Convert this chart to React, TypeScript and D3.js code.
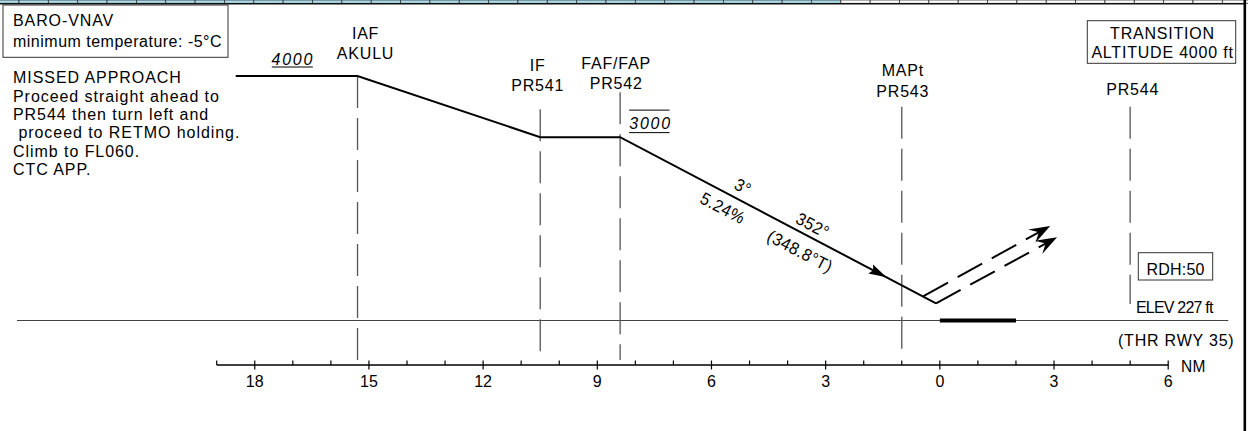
import React from "react";
import * as d3 from "d3";

// ---------- data ----------
const fixRoles = ["IAF", "IF", "FAF/FAP", "MAPt", ""];
const fixIds = ["AKULU", "PR541", "PR542", "PR543", "PR544"];
const fixDist = [15.3, 10.5, 8.4, 1.0, -5.0]; // NM from threshold (negative = beyond)

const profileDist = [18.5, 15.3, 10.5, 8.4, 0.1];
const profileAlt = [4000, 4000, 3000, 3000, 280];

const missedStartDist = [0.43, 0.1];
const missedStartAlt = [400, 280];
const missedEndDist = [-2.9, -3.08];
const missedEndAlt = [1546, 1362];

const runwayDist = [0, -2.0];
const descentArrowDist = 1.4;

const altLabels = ["4000", "3000"];
const altLabelDist = [17.0, 7.6];
const altLabelAlt = [4000, 3000];

const majorTicks = [18, 15, 12, 9, 6, 3, 0, -3, -6];
const axisRange = [19, -6];

const missedText = [
  "MISSED APPROACH",
  "Proceed straight ahead to",
  "PR544 then turn left and",
  " proceed to RETMO holding.",
  "Climb to FL060.",
  "CTC APP.",
];
const baroText = ["BARO-VNAV", "minimum temperature: -5°C"];
const transText = ["TRANSITION", "ALTITUDE 4000 ft"];
const descentLabels = ["3°", "5.24%", "352°", "(348.8°T)"];

// ---------- layout ----------
const W = 1248;
const H = 431;
const FONT = "'Liberation Sans', Arial, Helvetica, sans-serif";
const SY = 1.08; // glyph vertical stretch of the chart lettering

function T(props: any) {
  const { x, y, rot, children, ...rest } = props;
  const r = rot ? ` rotate(${rot})` : "";
  return (
    <text transform={`translate(${x},${y})${r} scale(1,${SY})`} fontSize={16} {...rest}>
      {children}
    </text>
  );
}

export default function App() {
  const x = d3.scaleLinear().domain([19, -6]).range([216.7, 1168.2]);
  const y = d3.scaleLinear().domain([0, 4000]).range([320.5, 76]);
  const axisY = 365;

  const line = d3
    .line<[number, number]>()
    .x((d) => x(d[0]))
    .y((d) => y(d[1]));
  const profilePts: [number, number][] = profileDist.map((d, i) => [d, profileAlt[i]]);

  // descent segment geometry
  const p0 = [x(profileDist[3]), y(profileAlt[3])];
  const p1 = [x(profileDist[4]), y(profileAlt[4])];
  const len = Math.hypot(p1[0] - p0[0], p1[1] - p0[1]);
  const u = [(p1[0] - p0[0]) / len, (p1[1] - p0[1]) / len];
  const nUp = [u[1], -u[0]];
  const ang = (Math.atan2(u[1], u[0]) * 180) / Math.PI;
  const labelLayout = [
    { s: 131.8, off: 12.9 },
    { s: 123.9, off: -15.3 },
    { s: 211.5, off: 11.4 },
    { s: 212.4, off: -17.5 },
  ];

  // descent arrow tip
  const tx = x(descentArrowDist);
  const tt = (tx - p0[0]) / (p1[0] - p0[0]);
  const tip = [tx, p0[1] + tt * (p1[1] - p0[1])];
  const arrowPath = (Tp: number[], d: number[], L: number, w: number, notch: number) => {
    const n = [d[1], -d[0]];
    const b1 = [Tp[0] - L * d[0] + w * n[0], Tp[1] - L * d[1] + w * n[1]];
    const b2 = [Tp[0] - L * d[0] - w * n[0], Tp[1] - L * d[1] - w * n[1]];
    const m = [Tp[0] - (L - notch) * d[0], Tp[1] - (L - notch) * d[1]];
    return `M${Tp[0]},${Tp[1]}L${b1[0]},${b1[1]}L${m[0]},${m[1]}L${b2[0]},${b2[1]}Z`;
  };

  // fix label layout
  const fixLayout = [
    { dx: 8, b1: 38.5, b2: 59, top: y(4000), bottom: axisY },
    { dx: -2.5, b1: 70.7, b2: 90.7, top: 109.3, bottom: 360 },
    { dx: -4, b1: 69, b2: 89.3, top: 92.3, bottom: 360 },
    { dx: 1, b1: 76, b2: 96.7, top: 106.7, bottom: 358 },
    { dx: 2.5, b1: 75, b2: 95, top: 106.7, bottom: 304 },
  ];

  // top strip cells
  const cellStep = 29.35;
  const cells = d3.range(-10.35, W, cellStep);

  const minorTicks = d3.range(axisRange[1], axisRange[0] + 1).filter((t) => !majorTicks.includes(t));

  return (
    <svg
      width={W}
      height={H}
      style={{ position: "fixed", left: 0, top: 0, background: "#fff" }}
      fontFamily={FONT}
    >
      <rect width={W} height={H} fill="#fff" />
      {/* top strip */}
      {cells.map((cx, i) => (
        <rect key={i} x={cx} y={0} width={cellStep} height={3.3} fill={cx < 830 ? "#a9dbe8" : "#fff"} stroke="#333" strokeWidth={0.8} />
      ))}
      <line x1={0} x2={1246} y1={3.8} y2={3.8} stroke="#111" strokeWidth={1.6} />
      {/* right border */}
      <line x1={1244.8} x2={1244.8} y1={0} y2={H} stroke="#000" strokeWidth={2.6} />

      {/* BARO box */}
      <rect x={3} y={5} width={225} height={52.3} fill="none" stroke="#333" strokeWidth={1} />
      {baroText.map((t, i) => (
        <T key={i} x={13} y={26 + i * 20.5} letterSpacing={i === 0 ? 0.9 : 0.5}>
          {t}
        </T>
      ))}

      {/* missed approach text */}
      {missedText.map((t, i) => (
        <T key={i} x={13} y={83.3 + i * 18.3} letterSpacing={0.95} style={{ whiteSpace: "pre" }}>
          {t}
        </T>
      ))}

      {/* transition box */}
      <rect x={1087.3} y={20.7} width={148.4} height={42.6} fill="none" stroke="#333" strokeWidth={1} />
      {transText.map((t, i) => (
        <T key={i} x={1162.5} y={39 + i * 18.6} letterSpacing={0.8} textAnchor="middle">
          {t}
        </T>
      ))}

      {/* ground line */}
      <line x1={17} x2={1228.3} y1={y(0)} y2={y(0)} stroke="#444" strokeWidth={1.2} />
      {/* runway */}
      <line x1={x(runwayDist[0])} x2={x(runwayDist[1])} y1={y(0)} y2={y(0)} stroke="#000" strokeWidth={4} />

      {/* fix dashed verticals and labels */}
      {fixDist.map((d, i) => {
        const L = fixLayout[i];
        const fx = x(d);
        return (
          <g key={i}>
            <line x1={fx} x2={fx} y1={L.top} y2={L.bottom} stroke="#555" strokeWidth={1.3} strokeDasharray="32 10" />
            {fixRoles[i] && (
              <T x={fx + L.dx} y={L.b1} letterSpacing={0.8} textAnchor="middle">
                {fixRoles[i]}
              </T>
            )}
            <T x={fx + L.dx} y={L.b2} letterSpacing={0.8} textAnchor="middle">
              {fixIds[i]}
            </T>
          </g>
        );
      })}

      {/* profile */}
      <path d={line(profilePts) || ""} fill="none" stroke="#000" strokeWidth={2} />
      <path d={arrowPath(tip, u, 18, 5, 3)} fill="#000" />

      {/* altitude labels */}
      {altLabels.map((t, i) => {
        const cx = x(altLabelDist[i]);
        const ay = y(altLabelAlt[i]);
        const base = i === 0 ? ay - 11.5 : ay - 8;
        return (
          <g key={i}>
            <T x={cx} y={base} fontStyle="italic" letterSpacing={1.8} textAnchor="middle">
              {t}
            </T>
            {i === 0 && <line x1={cx - 21} x2={cx + 20} y1={base + 2.5} y2={base + 2.5} stroke="#000" strokeWidth={1} />}
            {i === 1 && (
              <>
                <line x1={cx - 21.5} x2={cx + 19} y1={base - 19} y2={base - 19} stroke="#000" strokeWidth={1} />
                <line x1={cx - 21.5} x2={cx + 19} y1={base + 3.5} y2={base + 3.5} stroke="#000" strokeWidth={1} />
              </>
            )}
          </g>
        );
      })}

      {/* descent labels */}
      {descentLabels.map((t, i) => {
        const { s, off } = labelLayout[i];
        const cx = p0[0] + s * u[0] + off * nUp[0];
        const cy = p0[1] + s * u[1] + off * nUp[1];
        return (
          <T key={i} x={cx} y={cy} rot={ang} letterSpacing={0.5} textAnchor="middle" dominantBaseline="central">
            {t}
          </T>
        );
      })}

      {/* missed approach dashed lines */}
      {missedStartDist.map((d, i) => {
        const a = [x(d), y(missedStartAlt[i])];
        const b = [x(missedEndDist[i]), y(missedEndAlt[i])];
        const l = Math.hypot(b[0] - a[0], b[1] - a[1]);
        const dir = [(b[0] - a[0]) / l, (b[1] - a[1]) / l];
        const end = [b[0] - dir[0] * 10, b[1] - dir[1] * 10];
        return (
          <g key={i}>
            <line x1={a[0]} y1={a[1]} x2={end[0]} y2={end[1]} stroke="#000" strokeWidth={2} strokeDasharray="28 11" />
            <path d={arrowPath(b, dir, 21, 7.5, 8)} fill="#000" />
          </g>
        );
      })}

      {/* RDH box */}
      <rect x={1138.3} y={252.7} width={74.4} height={27.3} fill="none" stroke="#333" strokeWidth={1} />
      <T x={1146.5} y={275} letterSpacing={0.2}>
        RDH:50
      </T>
      <T x={1136} y={312.7} letterSpacing={-0.8}>
        ELEV 227 ft
      </T>
      <T x={1234.5} y={345.5} letterSpacing={0.8} textAnchor="end">
        (THR RWY 35)
      </T>

      {/* distance axis */}
      <line x1={x(axisRange[0])} x2={x(axisRange[1])} y1={axisY} y2={axisY} stroke="#000" strokeWidth={1.5} />
      {minorTicks.map((t) => (
        <line key={t} x1={x(t)} x2={x(t)} y1={axisY - 4.5} y2={axisY} stroke="#000" strokeWidth={1.2} />
      ))}
      {majorTicks.map((t) => (
        <g key={t}>
          <line x1={x(t)} x2={x(t)} y1={axisY - 4.5} y2={axisY + 4.5} stroke="#000" strokeWidth={1.2} />
          <T x={x(t)} y={387} textAnchor="middle">
            {Math.abs(t)}
          </T>
        </g>
      ))}
      <T x={1181} y={371.5} fontSize={15.5} letterSpacing={0.3}>
        NM
      </T>
    </svg>
  );
}
